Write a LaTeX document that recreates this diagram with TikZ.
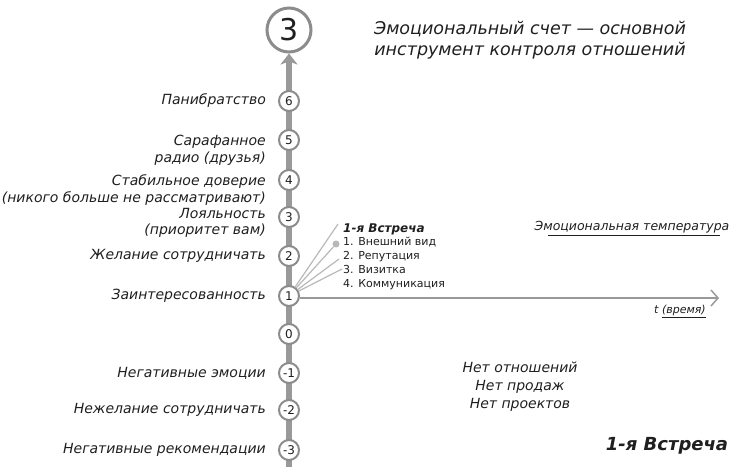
\documentclass[tikz,border=0pt]{standalone}
\usepackage{fontspec}
\setmainfont{DejaVu Sans}
\usetikzlibrary{arrows.meta,positioning}

\definecolor{axisgray}{rgb}{0.600000, 0.600000, 0.600000}
\definecolor{ringgray}{rgb}{0.550000, 0.550000, 0.550000}
\definecolor{fangray}{rgb}{0.720000, 0.720000, 0.720000}
\definecolor{inkcolor}{rgb}{0.120000, 0.120000, 0.120000}

\tikzset{
  level/.style={circle,draw=ringgray,line width=2pt,fill=white,minimum size=20pt,inner sep=0pt,text=inkcolor,font=\fontsize{12}{12}\selectfont},
  lbl/.style={text=inkcolor,inner sep=0pt,align=right,font=\fontsize{14}{17}\selectfont\itshape},
  fan/.style={draw=fangray,line width=1.2pt},
  uline/.style={draw=inkcolor,line width=0.8pt}
}

\begin{document}
\begin{tikzpicture}[x=1pt,y=-1pt]
\useasboundingbox (0,0) rectangle (732,467);
% top ring and the vertical scale
\node[circle,draw=ringgray,line width=3pt,fill=white,minimum size=44pt,inner sep=0pt,text=inkcolor,font=\fontsize{30}{30}\selectfont] (top) at (289,30){3};
\coordinate (vbot) at (289,467);
\draw[axisgray,line width=6pt,-{Stealth[length=11pt,width=17pt,inset=3pt]}] (vbot) -- (top.south);
\foreach \n/\v/\y in {p6/6/101,p5/5/140,p4/4/180,p3/3/217,p2/2/256,p1/1/296,z0/0/334,m1/-1/373,m2/-2/410,m3/-3/450}
  \node[level] (\n) at (289,\y){\v};
% labels left of the scale
\node[lbl,left=12pt of p6] (lp6){Панибратство};
\node[lbl,anchor=north east] (lp5) at ([xshift=-12pt,yshift=5pt]p5.west){Сарафанное\\радио (друзья)};
\node[lbl,anchor=north east] (lp4) at ([xshift=-12pt,yshift=6pt]p4.west){Стабильное доверие\\(никого больше не рассматривают)};
\node[lbl,anchor=north east,font=\fontsize{14}{16}\selectfont\itshape] (lp3) at ([xshift=-12pt,yshift=9pt]p3.west){Лояльность\\(приоритет вам)};
\node[lbl,left=12pt of p2] (lp2){Желание сотрудничать};
\node[lbl,left=12pt of p1] (lp1){Заинтересованность};
\node[lbl,left=12pt of m1] (lm1){Негативные эмоции};
\node[lbl,left=12pt of m2] (lm2){Нежелание сотрудничать};
\node[lbl,left=12pt of m3] (lm3){Негативные рекомендации};
% title
\node[text=inkcolor,align=center,font=\fontsize{17.5}{21}\selectfont\itshape] (title) at (530,40){Эмоциональный счет — основной\\инструмент контроля отношений};
% first meeting fan
\coordinate (f1) at (338,224);
\coordinate (f3) at (339,259);
\coordinate (f4) at (342,269);
\node[circle,fill=fangray,minimum size=7pt,inner sep=0pt] (dot) at (336,244){};
\draw[fan] (p1) -- (f1);
\draw[fan] (p1) -- (dot);
\draw[fan] (p1) -- (f3);
\draw[fan] (p1) -- (f4);
\node[anchor=west,inner sep=0pt,text=inkcolor,font=\fontsize{12}{12}\selectfont\bfseries\itshape] (meet) at (343,229){1-я Встреча};
\node[anchor=north west,inner sep=0pt,align=left,text=inkcolor,font=\fontsize{11}{14}\selectfont] (steps) at (343,237){1. Внешний вид\\2. Репутация\\3. Визитка\\4. Коммуникация};
% time axis
\coordinate (tend) at (719,298);
\draw[axisgray,line width=1.5pt,-{Straight Barb[length=7pt,width=16pt]}] ([yshift=-2pt]p1.east) -- (tend);
\node[text=inkcolor,inner sep=0pt,font=\fontsize{11}{11}\selectfont\itshape] (tlbl) at (680,311){t \underline{(время)}};
\node[text=inkcolor,inner sep=0pt,font=\fontsize{12.5}{12.5}\selectfont\itshape] (temp) at (632,227){Эмоциональная температура};
\draw[uline,shorten <=14pt,shorten >=10pt] ([yshift=-2pt]temp.south west) -- ([yshift=-2pt]temp.south east);
% texts on the right
\node[text=inkcolor,align=center,font=\fontsize{14}{18}\selectfont\itshape] (none) at (520,387){Нет отношений\\Нет продаж\\Нет проектов};
\node[text=inkcolor,inner sep=0pt,font=\fontsize{18}{18}\selectfont\bfseries\itshape] (meetb) at (667,446){1-я Встреча};
\end{tikzpicture}
\end{document}
